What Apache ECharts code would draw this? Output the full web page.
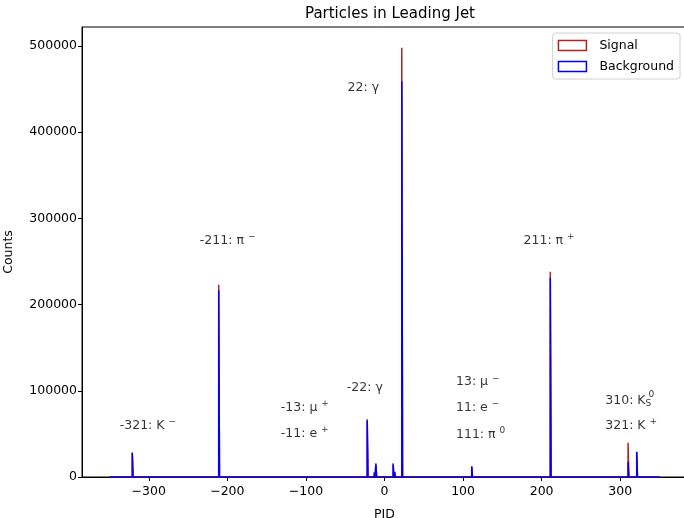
<!DOCTYPE html>
<html>
<head>
<meta charset="utf-8">
<script src="https://cdn.jsdelivr.net/npm/echarts@6/dist/echarts.min.js"></script>
<style>
html, body { margin: 0; padding: 0; background: #fff; }
#chart { width: 684px; height: 518px; }
</style>
</head>
<body>
<div id="chart"></div>
<script>
// histogram data (bin width 1 between -350 and 350, only non-empty bins listed)
var pids = [-321, -211, -22, -13, -11, 11, 13, 22, 111, 211, 310, 321];
var signalCounts = [28700, 223000, 66900, 5500, 16000, 16000, 6000, 498000, 12500, 238000, 39800, 29000];
var backgroundCounts = [27500, 216500, 65500, 5000, 14500, 14500, 5500, 459000, 12000, 231000, 17700, 29400];
var pidRange = [-350, 350];

var xTicks = [-300, -200, -100, 0, 100, 200, 300];
var yTicks = [0, 100000, 200000, 300000, 400000, 500000];

// particle annotations (data coords)
var annoText = ['22: γ', '-211: π {sup|−}', '211: π {sup|+}', '-22: γ', '-13: μ {sup|+}', '-11: e {sup|+}',
    '-321: K {sup|−}', '13: μ {sup|−}', '11: e {sup|−}', '111: π {sup|0}', '310: K{sub|S}', '{sup|0}', '321: K {sup|+}'];
var annoX = [-47, -235, 177, -48, -132, -132, -337, 91, 91, 91, 281, 336, 281];
var annoY = [451000, 274000, 274000, 103000, 80000, 50000, 60000, 110000, 80000, 49000, 89000, 91000, 59000];

function stepData(counts) {
    var pts = [[pidRange[0], 0]];
    pids.forEach(function (p, i) {
        pts.push([p, 0], [p, counts[i]], [p + 1, counts[i]], [p + 1, 0]);
    });
    pts.push([pidRange[1], 0]);
    return pts;
}

var font = 'DejaVu Sans';
var chart = echarts.init(document.getElementById('chart'));

var option = {
    animation: false,
    textStyle: { fontFamily: font },
    title: {
        text: 'Particles in Leading Jet',
        left: 385,
        textAlign: 'center',
        top: 2,
        textStyle: { fontFamily: font, fontSize: 15, fontWeight: 'normal', color: '#000' }
    },
    legend: {
        orient: 'vertical',
        right: 4,
        top: 33,
        itemWidth: 28,
        itemHeight: 10,
        itemGap: 8,
        padding: [6, 6, 6, 5],
        borderColor: '#d0d0d0',
        borderWidth: 1,
        borderRadius: 3,
        backgroundColor: 'rgba(255,255,255,0.8)',
        textStyle: { fontFamily: font, fontSize: 12.5, color: '#000', padding: [0, 0, 0, 8] },
        data: [
            { name: 'Signal', icon: 'rect', itemStyle: { color: 'rgba(0,0,0,0)', borderColor: '#b22222', borderWidth: 1.5 } },
            { name: 'Background', icon: 'rect', itemStyle: { color: 'rgba(0,0,0,0)', borderColor: '#0000ff', borderWidth: 1.5 } }
        ]
    },
    grid: {
        left: 82,
        top: 27,
        width: 605,
        bottom: 41,
        containLabel: false,
        outerBoundsMode: 'none',
        show: true,
        borderColor: '#000',
        borderWidth: 1
    },
    xAxis: {
        type: 'value',
        min: -385,
        max: 385,
        name: 'PID',
        nameLocation: 'middle',
        nameGap: 31,
        nameTextStyle: { fontFamily: font, fontSize: 12.5, color: '#000' },
        axisLine: { onZero: false, lineStyle: { color: '#000' } },
        axisTick: { length: 4, customValues: xTicks, lineStyle: { color: '#000' } },
        axisLabel: {
            customValues: xTicks, color: '#000', fontFamily: font, fontSize: 12.5, margin: 8,
            formatter: function (v) { return String(v).replace('-', '\u2212'); }
        },
        splitLine: { show: false }
    },
    yAxis: {
        type: 'value',
        min: 0,
        max: 522000,
        name: 'Counts',
        nameLocation: 'middle',
        nameGap: 67,
        nameTextStyle: { fontFamily: font, fontSize: 12.5, color: '#000' },
        axisLine: { show: true, onZero: false, lineStyle: { color: '#000' } },
        axisTick: { show: true, length: 4, customValues: yTicks, lineStyle: { color: '#000' } },
        axisLabel: {
            customValues: yTicks, color: '#000', fontFamily: font, fontSize: 12.5, margin: 5,
            formatter: function (v) { return String(v); }
        },
        splitLine: { show: false }
    },
    series: [
        {
            name: 'Signal',
            type: 'line',
            data: stepData(signalCounts),
            showSymbol: false,
            color: '#b22222',
            lineStyle: { color: '#b22222', width: 1.5 },
            z: 2
        },
        {
            name: 'Background',
            type: 'line',
            data: stepData(backgroundCounts),
            showSymbol: false,
            color: '#0000ff',
            lineStyle: { color: '#0000ff', width: 1.5 },
            z: 3
        },
        {
            name: 'labels',
            type: 'scatter',
            symbolSize: 0,
            silent: true,
            data: annoX.map(function (x, i) { return [x, annoY[i]]; }),
            label: {
                show: true,
                position: 'right',
                distance: 0,
                color: '#000',
                fontFamily: font,
                fontSize: 12.5,
                formatter: function (p) { return annoText[p.dataIndex]; },
                rich: {
                    sup: { fontFamily: font, fontSize: 9, color: '#000', verticalAlign: 'top', padding: [0, 0, 8, 0] },
                    sub: { fontFamily: font, fontSize: 9, color: '#000', verticalAlign: 'bottom', padding: [6, 0, 0, 0] }
                }
            },
            z: 5
        }
    ]
};

chart.setOption(option);
</script>
</body>
</html>
